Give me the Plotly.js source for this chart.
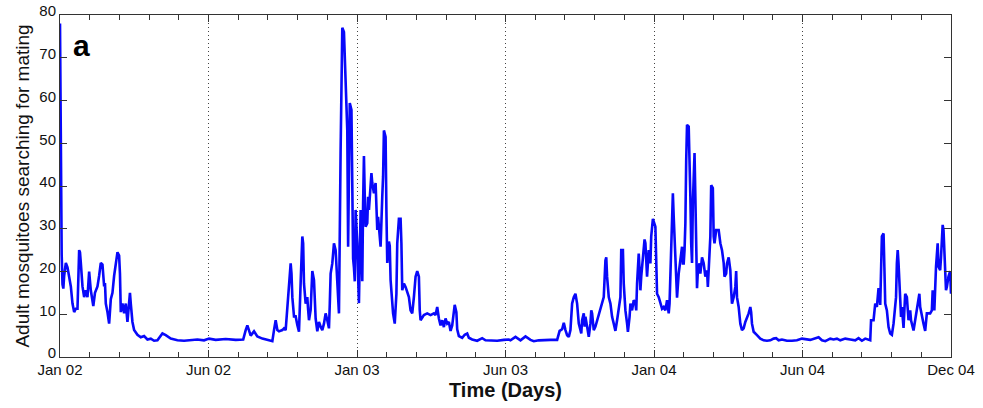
<!DOCTYPE html>
<html>
<head>
<meta charset="utf-8">
<script src="https://cdn.plot.ly/plotly-3.0.1.min.js"></script>
<style>html,body{margin:0;padding:0;background:#fff;}#chart{width:983px;height:408px;}</style>
</head>
<body>
<div id="chart"></div>
<script>
// Day index since start (Jan 02) and number of adult mosquitoes searching for mating
const days = [
0,1,2,3,4,5,7,9,11,13,15,17,19,21,23,24,25,27,29,31,33,35,37,40,42,45,47,49,51,53,54,55,57,59,61,63,65,67,69,71,72,73,75,77,79,81,83,84,85,87,89,93,97,101,105,109,113,117,123,127,133,141,149,157,165,173,179,
187,199,211,220,223,225,229,233,237,243,251,255,257,259,261,263,267,269,271,273,275,277,278,279,281,283,285,287,289,291,292,293,295,297,298,299,301,303,305,306,307,309,311,313,315,317,319,321,323,324,325,327,329,331,333,335,337,339,341,343,345,346,347,348,350,351,352,353,354,355,357,358,359,361,362,363,364,365,366,367,369,370,371,373,374,375,377,379,380,381,382,384,385,387,388,389,391,392,393,395,396,397,399,400,402,
404,405,407,409,410,411,413,415,417,419,421,423,425,427,429,431,432,433,437,441,445,449,451,453,455,457,459,461,463,465,467,469,471,473,474,476,477,479,483,486,489,491,495,501,507,511,517,525,533,539,
541,547,553,559,565,569,575,581,589,597,600,603,605,607,609,611,613,615,617,619,621,623,625,626,627,629,630,631,633,635,637,638,639,641,643,645,647,649,651,653,655,656,657,659,661,663,665,667,669,671,673,674,676,677,679,681,682,684,685,687,689,691,692,693,695,696,697,698,700,702,703,704,705,707,709,710,711,712,
715,716,717,719,721,723,725,727,729,731,732,733,734,736,737,739,740,741,743,744,745,747,748,749,750,751,752,753,755,756,757,758,759,760,761,762,763,764,765,766,768,769,771,773,775,777,778,779,781,782,784,785,786,788,790,791,793,795,797,798,800,801,803,805,806,807,809,811,812,813,815,817,819,821,823,825,827,829,830,831,833,837,841,845,849,853,857,860,863,867,873,879,885,891,
901,911,915,919,925,929,933,937,943,949,955,959,963,967,971,973,974,977,979,981,983,984,985,987,989,990,991,993,995,997,999,1001,1003,1004,1005,1006,1007,1009,1010,1011,1013,1014,1015,1017,1018,1019,1021,1022,1025,1027,1029,1031,1032,1033,1035,1037,1039,1040,1041,1045,1047,1048,1049,1050,1052,1054,1055,1057,1058,1060,1061,1063,1064,1065,1067,1069,1070
];
const adults = [
78,40,24,17,16,19,22,21,19,16.5,12.5,10.5,11.3,11.3,25,24.5,22,16.5,14,15.6,14,20,15.6,11.9,15,16.5,19,22,21.6,16.5,17.3,12.5,10.5,7.8,13.5,15,19,22,24.5,23.7,19.5,10.5,12.5,10.2,12.5,8.2,13.3,15,12.5,8.2,6.3,5.2,4.6,4.9,4.1,4.3,3.8,3.9,5.5,5.1,4.3,3.9,3.8,3.9,4.1,3.9,4.3,
4.0,4.2,4.0,4.1,6.3,7.4,5,6,4.8,4.3,3.9,3.7,6.3,8.6,6.3,6,6.3,6.7,6.3,11.7,14.8,21.9,19.5,14,9.5,9.5,7.5,5.9,17.4,28.2,26.6,17.2,12.5,14,11,8.6,11,20.1,18,13,9,6,8.2,7.1,6.3,7.8,10.2,8.6,6.7,12.5,19.5,21.9,26.6,25,17.2,10.2,48.5,77,76,63.7,53,25.8,48.5,59.4,57.8,31.3,23,20.9,17.7,34.4,26.6,18.8,12.6,34.4,23,17.7,36,47,37.5,30.5,31.3,37.5,34.4,41.5,43,40.7,38.3,40.7,34.4,29.7,32.8,26.6,25.8,37.5,42.3,53,51.5,34,22,27,26,18,12.6,10.2,7.8,
14.8,26.6,32.3,32.3,26.6,15.6,17.2,16.4,15.3,14,10.9,10.2,14,18.8,20.1,18.8,11,8.6,9.8,10.2,9.8,10.2,9.8,11.7,9,7.4,8.6,7,9,7.8,8.2,6.1,7.4,10.5,12.2,10.5,6.5,4.9,4.5,5.2,5.5,4.5,4.1,3.8,4.4,3.9,3.8,3.8,4.0,4.1,
3.9,4.7,3.9,4.8,4.0,3.7,3.9,4.0,4.0,4.0,6.1,6.5,8.0,6.3,5.1,4.7,6.3,12.5,14,14.8,12.5,7.8,6.3,5.5,8.6,10.2,7.1,9.4,7.1,4.7,7.8,10.9,10.2,6.3,7.1,8.6,9.4,10.9,12.5,14,22.6,23.3,18.8,14,12.5,9.4,7.8,6.1,8.6,10.9,14,25,25,17.2,10.9,7.8,5.9,9.4,12.5,10.9,13.3,12.5,10.9,17.2,24.2,20.3,15.6,18.8,22.6,27.5,26.6,20.3,18.8,25,21.9,28.2,30.5,32.3,
30.5,22,14.8,14,12.5,11.3,11.7,10.9,13.3,10.2,12.5,20.3,28.2,38.3,32.8,21.9,14.8,13.9,19.5,21.1,22.6,25.8,21.9,21.9,25,31.3,46,54.3,53.9,39.8,37.5,26.6,22,36,40.7,47.7,37.5,26.6,16.1,20.1,21.9,19.5,23.3,21.9,18.8,20.3,16.4,20.3,28.2,40.2,39.5,28.2,26.6,29.7,29.7,29.7,26.6,25,22,18.8,19.5,21.9,23.3,20.3,15.6,12.5,14,16.4,20.1,14,11.7,7.8,6.3,6.7,8.2,9,10.2,11.7,10.5,7.8,5.9,5.1,4.3,3.9,3.8,3.9,4.3,4.4,3.9,4.1,3.8,3.8,3.9,4.3,
4.0,4.6,3.9,3.7,4.3,4.1,4.3,3.9,4.3,4.1,3.9,4.4,3.8,4.3,4.1,3.9,8.6,8.6,12.5,11.7,16.1,13,12.2,28.2,28.9,21,12.5,10.9,7,5.5,5.2,7.8,12.5,14,21.9,25,21.9,14.8,9.4,11.7,6.8,10.9,14.8,14,9.4,8.6,10.9,8.6,6.2,8.6,10.9,12.5,14.8,11.7,9.4,7.8,6.1,9.4,10.2,10.2,10.9,15.6,13.3,10.9,21.1,26.6,21.1,20.3,23.3,30.9,29.7,19.5,15.6,16.4,18.8,20.1,14.8
];
const tickLabels = ["Jan 02","Jun 02","Jan 03","Jun 03","Jan 04","Jun 04","Dec 04"];
const xTitle = "Time (Days)";
const yTitle = "Adult mosquitoes searching for mating";
const panelLabel = "a";
const xMax = 1070;
const tickVals = tickLabels.map((_, i) => i * xMax / (tickLabels.length - 1));

const font = "Liberation Sans, Arial, Helvetica, sans-serif";
const trace = {
  x: days, y: adults, type: "scatter", mode: "lines",
  line: {color: "rgb(8,8,250)", width: 2.6},
  hoverinfo: "skip"
};
const layout = {
  width: 983, height: 408,
  margin: {l: 60, r: 32, t: 15, b: 51},
  paper_bgcolor: "#fff", plot_bgcolor: "#fff",
  showlegend: false,
  font: {family: font, color: "#111"},
  xaxis: {
    range: [0, xMax], tickmode: "array", tickvals: tickVals, ticktext: tickLabels,
    ticks: "inside", ticklen: 7, tickwidth: 1, tickcolor: "#333",
    showline: true, linecolor: "#333", linewidth: 1, mirror: "ticks",
    showgrid: true, gridcolor: "#444", griddash: "1px,3px", gridwidth: 1,
    zeroline: false,
    minor: {tickmode: "linear", tick0: 0, dtick: xMax / 30, ticks: "inside", ticklen: 5, tickcolor: "#333", showgrid: false},
    tickfont: {size: 15, family: font, color: "#111"},
    ticklabelstandoff: -1
  },
  yaxis: {
    range: [0, 80], tickmode: "linear", tick0: 0, dtick: 10,
    ticks: "inside", ticklen: 7, tickwidth: 1, tickcolor: "#333",
    showline: true, linecolor: "#333", linewidth: 1, mirror: "ticks",
    showgrid: false, zeroline: false,
    tickfont: {size: 15, family: font, color: "#111"},
    ticklabelshift: -4,
    title: {text: yTitle, font: {size: 19, family: font, color: "#111"}, standoff: 4}
  },
  annotations: [{
    text: "<b>" + panelLabel + "</b>", xref: "paper", yref: "paper", x: 0.0236, y: 0.912,
    xanchor: "center", yanchor: "middle", showarrow: false,
    font: {size: 30, family: font, color: "#000"}
  }, {
    text: "<b>" + xTitle + "</b>", xref: "paper", yref: "paper", x: 0.5, y: -0.0965,
    xanchor: "center", yanchor: "middle", showarrow: false,
    font: {size: 20, family: font, color: "#111"}
  }]
};
Plotly.newPlot("chart", [trace], layout, {displayModeBar: false, staticPlot: true});
</script>
</body>
</html>
